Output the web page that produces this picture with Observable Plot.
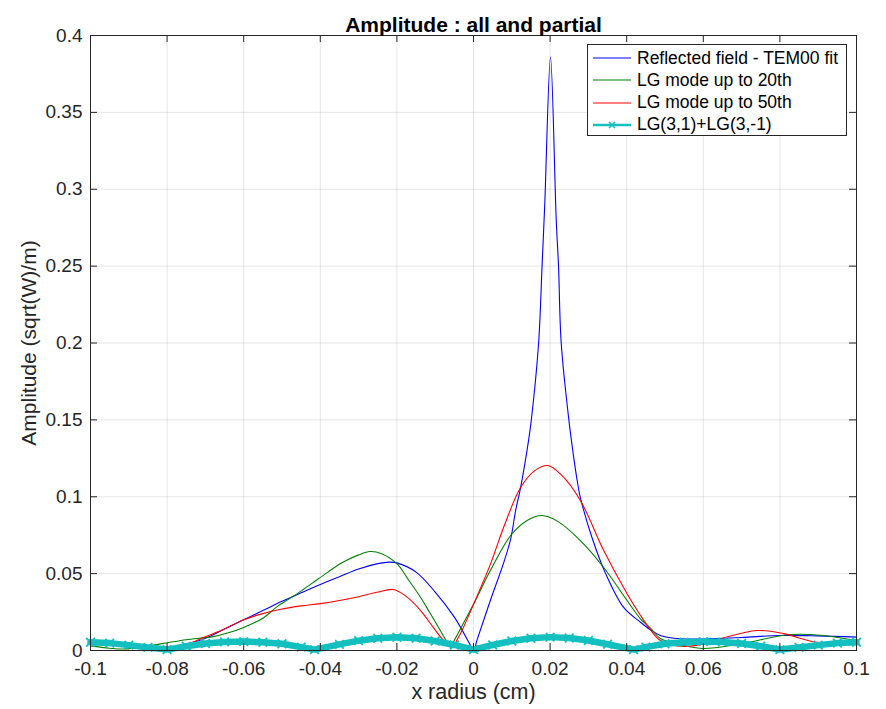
<!DOCTYPE html>
<html><head><meta charset="utf-8">
<script src="https://cdn.jsdelivr.net/npm/d3@7"></script>
<script src="https://cdn.jsdelivr.net/npm/@observablehq/plot@0.6"></script>
<style>
body{margin:0;background:#fff;}
#wrap{position:relative;width:886px;height:709px;font-family:"Liberation Sans",Arial,Helvetica,sans-serif;}
#legend{position:absolute;left:587px;top:44px;width:260px;height:92px;border:1px solid #262626;background:#fff;box-sizing:border-box;}
.row{position:absolute;left:4px;height:22px;display:flex;align-items:center;font-size:17.5px;color:#000;white-space:nowrap;}
.row svg{margin-right:5px;}
</style></head><body><div id="wrap"></div>
<script>
// ---- data ----
const blueX = [-0.1,-0.095,-0.09,-0.085,-0.08,-0.075,-0.07,-0.065,-0.06,-0.055,-0.05,-0.045,-0.04,-0.035,-0.03,-0.025,-0.022,-0.02,-0.015,-0.01,-0.005,-0.001,0,0.001,0.0044,0.008,0.0097,0.011,0.0123,0.0144,0.0151,0.017,0.0179,0.0186,0.0201,0.0216,0.0222,0.0229,0.0249,0.0262,0.0272,0.0279,0.031,0.0345,0.0392,0.0436,0.0462,0.0488,0.054,0.06,0.07,0.08,0.09,0.1];
const blueY = [0.005,0.004,0.003,0.002,0.002,0.004,0.008,0.014,0.020,0.026,0.032,0.0375,0.043,0.048,0.053,0.0565,0.0575,0.057,0.051,0.038,0.0217,0.0044,0,0.0074,0.0325,0.058,0.0725,0.091,0.106,0.137,0.150,0.200,0.250,0.29,0.386,0.28,0.25,0.2,0.15,0.125,0.1086,0.0995,0.073,0.050,0.028,0.0184,0.0135,0.0098,0.0076,0.0075,0.0085,0.0098,0.0095,0.0087];

const greenX = [-0.1,-0.095,-0.091,-0.085,-0.08,-0.075,-0.068,-0.064,-0.06,-0.055,-0.051,-0.046,-0.042,-0.038,-0.034,-0.03,-0.027,-0.024,-0.02,-0.017,-0.0138,-0.0115,-0.0075,-0.0068,-0.006,-0.005,-0.003,0,0.0044,0.0097,0.014,0.0179,0.022,0.0279,0.034,0.0401,0.0436,0.0462,0.0488,0.055,0.06,0.0697,0.0828,0.0914,0.1];
const greenY = [0.003,0.0015,0.001,0.003,0.005,0.007,0.009,0.0115,0.015,0.021,0.029,0.037,0.044,0.051,0.0575,0.0622,0.0644,0.063,0.0565,0.046,0.0345,0.025,0.008,0.005,0.002,0.0067,0.016,0.030,0.052,0.0748,0.0846,0.0878,0.084,0.0715,0.054,0.0325,0.0206,0.0145,0.0078,0.0032,0.0013,0.0043,0.0104,0.0098,0.0065];

const redX = [-0.1,-0.09,-0.08,-0.075,-0.07,-0.065,-0.06,-0.055,-0.05,-0.045,-0.04,-0.035,-0.03,-0.025,-0.021,-0.018,-0.0138,-0.0105,-0.0078,-0.0062,-0.0052,-0.0045,-0.003,0,0.0044,0.008,0.0123,0.016,0.0194,0.023,0.0279,0.034,0.0401,0.0436,0.0462,0.0488,0.055,0.06,0.065,0.074,0.081,0.0897,0.1];
const redY = [0.004,0.003,0.002,0.004,0.009,0.014,0.020,0.024,0.027,0.029,0.0305,0.0325,0.035,0.038,0.0397,0.036,0.026,0.015,0.0065,0.0038,0.002,0.0058,0.013,0.030,0.056,0.081,0.106,0.117,0.1203,0.114,0.0976,0.065,0.0369,0.0228,0.0135,0.0065,0.0026,0.0043,0.008,0.013,0.011,0.0054,0.0071];

const cyanX = [-0.1,-0.095,-0.09,-0.085,-0.08,-0.075,-0.07,-0.065,-0.06,-0.055,-0.05,-0.045,-0.0415,-0.035,-0.03,-0.025,-0.02,-0.015,-0.01,-0.005,0,0.005,0.01,0.015,0.02,0.025,0.03,0.035,0.0418,0.045,0.05,0.055,0.06,0.065,0.07,0.075,0.08,0.085,0.09,0.095,0.1];
const cyanY = [0.0054,0.0048,0.0035,0.002,0.0006,0.0028,0.0046,0.0056,0.0058,0.0054,0.0044,0.0022,0.0006,0.004,0.0064,0.008,0.0086,0.008,0.0062,0.0036,0.0006,0.0036,0.0062,0.008,0.0087,0.0081,0.0065,0.0041,0.0006,0.0022,0.0044,0.0054,0.0058,0.0056,0.0046,0.0028,0.0006,0.002,0.0035,0.0048,0.0054];

const xTicks = [-0.1,-0.08,-0.06,-0.04,-0.02,0,0.02,0.04,0.06,0.08,0.1];
const xTickLabels = ["-0.1","-0.08","-0.06","-0.04","-0.02","0","0.02","0.04","0.06","0.08","0.1"];
const yTicks = [0,0.05,0.1,0.15,0.2,0.25,0.3,0.35,0.4];
const yTickLabels = ["0","0.05","0.1","0.15","0.2","0.25","0.3","0.35","0.4"];

const seriesNames = ["Reflected field - TEM00 fit","LG mode up to 20th","LG mode up to 50th","LG(3,1)+LG(3,-1)"];
const seriesColors = ["#0000ff","#008000","#ff0000","#14bfbf"];
const titleText = "Amplitude : all and partial";
const xLabelText = "x radius (cm)";
const yLabelText = "Amplitude (sqrt(W)/m)";

// ---- build ----
const rows = (xs, ys) => xs.map((x, i) => ({x, y: ys[i]}));
const blue = rows(blueX, blueY), green = rows(greenX, greenY), red = rows(redX, redY), cyan = rows(cyanX, cyanY);

const W = 886, H = 709, mL = 90, mR = 30, mT = 35, mB = 59;
const innerW = W - mL - mR, innerH = H - mT - mB;
const FONT = '"Liberation Sans", Arial, Helvetica, sans-serif';
const axisColor = "#262626";

const chart = Plot.plot({
  width: W, height: H,
  marginLeft: mL, marginRight: mR, marginTop: mT, marginBottom: mB,
  style: {fontFamily: FONT, fontSize: "19px", color: axisColor, background: "white", overflow: "visible"},
  x: {domain: [-0.1, 0.1]},
  y: {domain: [0, 0.4]},
  marks: [
    Plot.gridX(xTicks, {stroke: "#000", strokeOpacity: 0.1}),
    Plot.gridY(yTicks, {stroke: "#000", strokeOpacity: 0.1}),
    Plot.line(blue, {x: "x", y: "y", stroke: seriesColors[0], strokeWidth: 1.1, curve: "catmull-rom"}),
    Plot.line(green, {x: "x", y: "y", stroke: seriesColors[1], strokeWidth: 1.1, curve: "catmull-rom"}),
    Plot.line(red, {x: "x", y: "y", stroke: seriesColors[2], strokeWidth: 1.1, curve: "catmull-rom"}),
    Plot.line(cyan, {x: "x", y: "y", stroke: seriesColors[3], strokeWidth: 6.5, curve: "linear"}),
    Plot.dot(cyan, {x: "x", y: "y", symbol: "times", r: 4, stroke: seriesColors[3], strokeWidth: 1.8}),
    Plot.tickX(xTicks, {x: d => d, insetTop: innerH - 7, stroke: axisColor}),
    Plot.tickX(xTicks, {x: d => d, insetBottom: innerH - 7, stroke: axisColor}),
    Plot.tickY(yTicks, {y: d => d, insetRight: innerW - 7, stroke: axisColor}),
    Plot.tickY(yTicks, {y: d => d, insetLeft: innerW - 7, stroke: axisColor}),
    Plot.frame({stroke: axisColor}),
    Plot.axisX(xTicks, {tickSize: 0, tickPadding: 11, tickFormat: d => xTickLabels[xTicks.indexOf(d)], label: null, fontSize: 19}),
    Plot.axisY(yTicks, {tickSize: 0, tickPadding: 8, tickFormat: d => yTickLabels[yTicks.indexOf(d)], label: null, fontSize: 19}),
    Plot.text([titleText], {frameAnchor: "top", text: d => d, dy: -18, fontWeight: "bold", fontSize: 21, fill: "#000"}),
    Plot.text([xLabelText], {frameAnchor: "bottom", text: d => d, dy: 48, fontSize: 21.5, fill: axisColor}),
    Plot.text([yLabelText], {frameAnchor: "left", text: d => d, rotate: -90, dx: -61, textAnchor: "middle", fontSize: 21, fill: axisColor})
  ]
});

const wrap = document.getElementById("wrap");
wrap.appendChild(chart);

// legend
const legend = document.createElement("div");
legend.id = "legend";
seriesNames.forEach((name, i) => {
  const row = document.createElement("div");
  row.className = "row";
  row.style.top = (2 + i * 22.3) + "px";
  const sw = d3.create("svg").attr("width", 40).attr("height", 12);
  sw.append("line").attr("x1", 1).attr("x2", 39).attr("y1", 6).attr("y2", 6)
    .attr("stroke", seriesColors[i]).attr("stroke-width", i === 3 ? 2.5 : 1.1);
  if (i === 3) {
    sw.append("path").attr("d", "M17,3L23,9M23,3L17,9").attr("stroke", seriesColors[i]).attr("stroke-width", 1.6);
  }
  row.appendChild(sw.node());
  const t = document.createElement("span");
  t.textContent = name;
  row.appendChild(t);
  legend.appendChild(row);
});
wrap.appendChild(legend);
</script>
</body></html>
